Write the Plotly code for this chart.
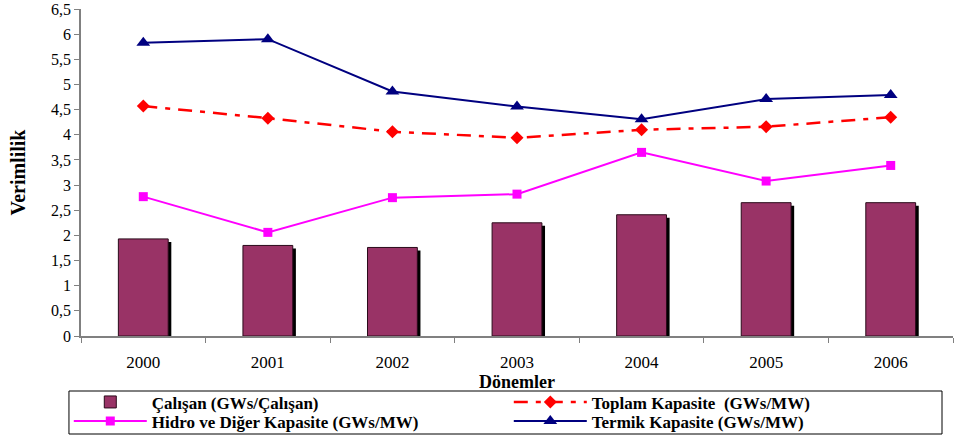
import plotly.graph_objects as go

years = ["2000", "2001", "2002", "2003", "2004", "2005", "2006"]
calisan = [1.93, 1.80, 1.76, 2.25, 2.41, 2.65, 2.65]
toplam = [4.57, 4.33, 4.06, 3.94, 4.10, 4.16, 4.35]
hidro = [2.77, 2.06, 2.75, 2.82, 3.65, 3.08, 3.39]
termik = [5.83, 5.90, 4.86, 4.56, 4.31, 4.71, 4.79]
y_ticks = [0, 0.5, 1, 1.5, 2, 2.5, 3, 3.5, 4, 4.5, 5, 5.5, 6, 6.5]

FONT = "Liberation Serif"
shadow_drop = 0.06

fig = go.Figure()
# bar shadow
fig.add_trace(go.Bar(x=years, y=[v - shadow_drop for v in calisan], width=0.4, offset=-0.175,
                     marker=dict(color="black", line=dict(width=0)),
                     showlegend=False, hoverinfo="skip"))
fig.add_trace(go.Bar(x=years, y=calisan, width=0.4, offset=-0.2,
                     name="Çalışan (GWs/Çalışan)", legend="legend",
                     marker=dict(color="#993366", line=dict(color="#2a0a1a", width=1))))
fig.add_trace(go.Scatter(x=years, y=toplam, mode="lines+markers",
                         name="Toplam Kapasite  (GWs/MW)", legend="legend",
                         line=dict(color="#FF0000", width=2.5, dash="14px,8px,5px,8px"),
                         marker=dict(symbol="diamond", size=10, color="#FF0000")))
fig.add_trace(go.Scatter(x=years, y=hidro, mode="lines+markers",
                         name="Hidro ve Diğer Kapasite (GWs/MW)", legend="legend2",
                         line=dict(color="#FF00FF", width=2),
                         marker=dict(symbol="square", size=9, color="#FF00FF")))
fig.add_trace(go.Scatter(x=years, y=termik, mode="lines+markers",
                         name="Termik Kapasite (GWs/MW)", legend="legend2",
                         line=dict(color="#000080", width=2),
                         marker=dict(symbol="triangle-up", size=12, color="#000080")))

legend_common = dict(orientation="h", x=-0.014, xanchor="left", yanchor="top",
                     borderwidth=0, bgcolor="rgba(0,0,0,0)",
                     entrywidth=352, entrywidthmode="pixels",
                     font=dict(family=FONT, size=17, color="black", weight="bold"),
                     tracegroupgap=0, itemwidth=73)

fig.update_layout(
    width=954, height=435,
    margin=dict(l=81, r=1, t=9, b=99, autoexpand=False),
    plot_bgcolor="white", paper_bgcolor="white",
    barmode="overlay",
    separators=",.",
    font=dict(family=FONT, size=15, color="black"),
    legend=dict(legend_common, y=-0.148),
    legend2=dict(legend_common, y=-0.206),
    shapes=[dict(type="rect", xref="paper", yref="paper",
                 x0=-0.0138, x1=0.9874, y0=-0.1682, y1=-0.2997,
                 line=dict(color="black", width=1), fillcolor="rgba(0,0,0,0)")],
)
fig.update_xaxes(type="category", tickson="boundaries", ticks="outside", ticklen=5,
                 tickcolor="#808080", showline=True, linecolor="#808080", linewidth=1.5,
                 showgrid=False, automargin=False, tickfont=dict(family=FONT, size=17),
                 ticklabelstandoff=10,
                 title=dict(text="<b>Dönemler</b>", font=dict(family=FONT, size=18), standoff=0))
fig.update_yaxes(range=[0, 6.5], tickvals=y_ticks, ticks="outside", ticklen=5,
                 tickcolor="#808080", showline=True, linecolor="#808080", linewidth=1.5,
                 showgrid=False, zeroline=False, automargin=False, tickfont=dict(family=FONT, size=16),
                 title=dict(text="<b>Verimlilik</b>", font=dict(family=FONT, size=20), standoff=20))

fig.write_html("out.html", config={"displayModeBar": False},
               post_script="document.body.style.margin='0';")
